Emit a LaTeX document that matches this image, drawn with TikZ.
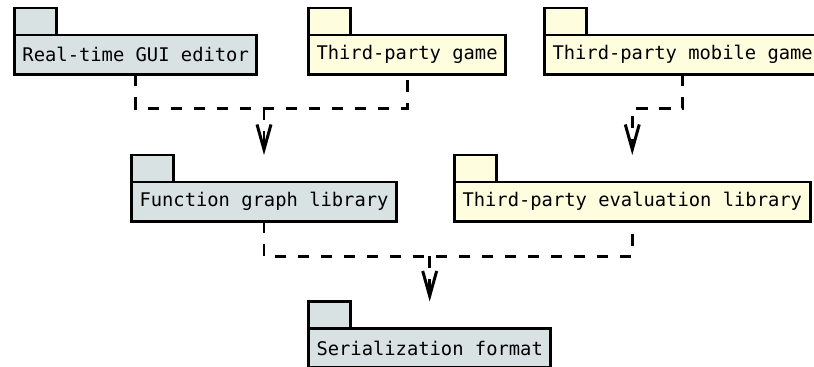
\documentclass[tikz,border=0pt]{standalone}
\usepackage{fontspec}
\setmonofont{DejaVu Sans Mono}
\usetikzlibrary{arrows.meta}
\definecolor{pkgblue}{RGB}{216,226,226}
\definecolor{pkgyellow}{RGB}{254,253,222}

\begin{document}
\begin{tikzpicture}[x=0.02cm, y=-0.02cm,
    pkg/.style={draw, line width=1.7pt, anchor=north west, outer sep=0pt, inner xsep=0.16cm,
                minimum height=0.79cm, font=\ttfamily\fontsize{10.7}{13}\selectfont},
    tab/.style={draw, line width=1.7pt, anchor=south west, outer sep=0pt, inner sep=0pt,
                minimum width=0.84cm, minimum height=0.54cm},
    link/.style={line width=1.7pt, dash pattern=on 0.23cm off 0.23cm},
    dep/.style={link, -{Straight Barb[length=0.5cm, width=0.28cm]}}]
    \useasboundingbox (0,0) rectangle (814,367);
    \clip (0,0) rectangle (814,367);
    % packages
    \node[pkg, fill=pkgblue]   (gui)    at (14.5,35)   {Real-time GUI editor};
    \node[pkg, fill=pkgyellow] (game)   at (308.5,35)  {Third-party game};
    \node[pkg, fill=pkgyellow] (mobile) at (544.5,35)  {Third-party mobile game};
    \node[pkg, fill=pkgblue]   (fgl)    at (131.5,182) {Function graph library};
    \node[pkg, fill=pkgyellow] (eval)   at (454.5,182) {Third-party evaluation library};
    \node[pkg, fill=pkgblue]   (ser)    at (308.5,328.5) {Serialization format};
    \foreach \n/\c in {gui/pkgblue, game/pkgyellow, mobile/pkgyellow,
                       fgl/pkgblue, eval/pkgyellow, ser/pkgblue}
      \node[tab, fill=\c] (\n-tab) at (\n.north west) {};
    % dependencies
    \draw[link] (gui.south) -- ++(0,34) coordinate (j1) -| (game.south);
    \draw[dep] (j1 -| fgl) -- (fgl |- fgl-tab.north);
    \draw[dep] (mobile.south) -- ++(0,34) -| (eval |- eval-tab.north);
    \draw[link] (fgl.south) -- ++(0,35) coordinate (j2) -| (eval.south);
    \draw[dep] (j2 -| ser) -- (ser |- ser-tab.north);
\end{tikzpicture}
\end{document}
